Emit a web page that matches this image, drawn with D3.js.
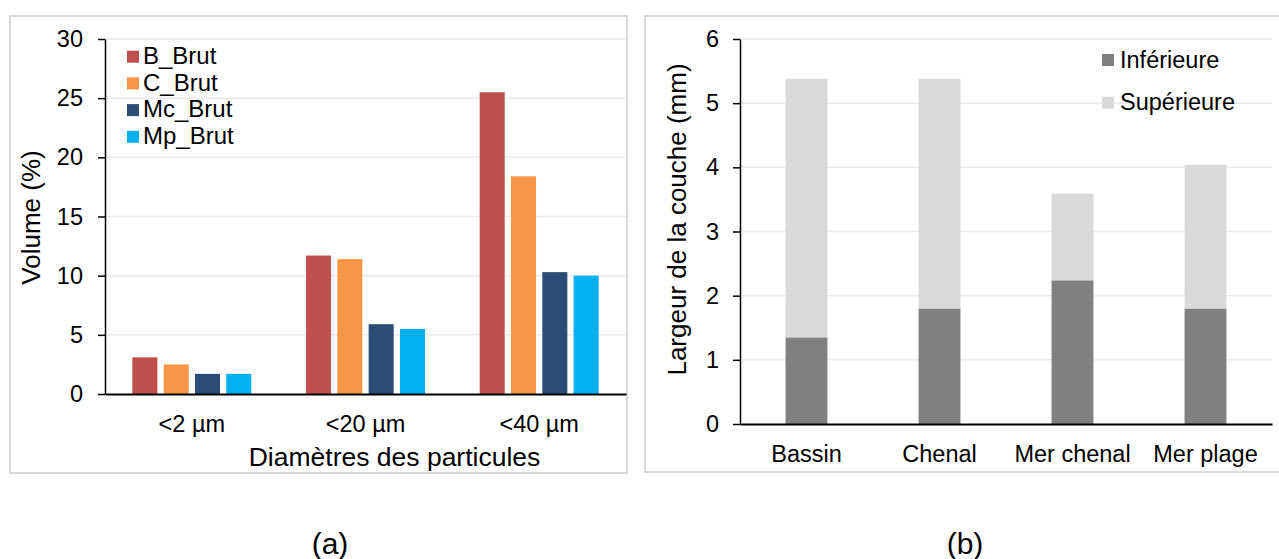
<!DOCTYPE html>
<html>
<head>
<meta charset="utf-8">
<script src="https://cdn.jsdelivr.net/npm/d3@7"></script>
<style>
  html, body { margin: 0; padding: 0; background: #fff; }
  svg { display: block; }
  text { font-family: "Liberation Sans", Arial, sans-serif; fill: #000; }
</style>
</head>
<body>
<svg id="chart" width="1279" height="559"></svg>
<script>
// ---------- Panel (a) data ----------
const categoriesA = ["<2 µm", "<20 µm", "<40 µm"];
const seriesA = ["B_Brut", "C_Brut", "Mc_Brut", "Mp_Brut"];
const bBrut  = [3.1, 11.7, 25.5];
const cBrut  = [2.5, 11.4, 18.4];
const mcBrut = [1.7, 5.9, 10.3];
const mpBrut = [1.7, 5.5, 10.0];
const colorsA = ["#C0504D", "#F79646", "#2C4D75", "#00B0F0"];
const ticksA = [0, 5, 10, 15, 20, 25, 30];
const titleYA = "Volume (%)";
const titleXA = "Diamètres des particules";

// ---------- Panel (b) data ----------
const categoriesB = ["Bassin", "Chenal", "Mer chenal", "Mer plage"];
const seriesB = ["Inférieure", "Supérieure"];
const inferieure = [1.35, 1.8, 2.24, 1.8];
const superieure = [4.03, 3.58, 1.35, 2.24];
const colorsB = ["#808080", "#D9D9D9"];
const ticksB = [0, 1, 2, 3, 4, 5, 6];
const titleYB = "Largeur de la couche (mm)";

const svg = d3.select("#chart");

// Frames
svg.append("rect").attr("x", 10).attr("y", 16).attr("width", 617).attr("height", 457)
  .attr("fill", "none").attr("stroke", "#d9d9d9").attr("stroke-width", 2);
svg.append("rect").attr("x", 645).attr("y", 16).attr("width", 640).attr("height", 456)
  .attr("fill", "none").attr("stroke", "#d9d9d9").attr("stroke-width", 2);

// ================= Panel (a) =================
(function () {
  const left = 105, right = 626, top = 39, bottom = 394;
  const valuesA = [bBrut, cBrut, mcBrut, mpBrut];
  const y = d3.scaleLinear().domain([0, 30]).range([bottom, top]);
  const x0 = d3.scaleBand().domain(categoriesA).range([left, right]).padding(0);
  const groupW = x0.bandwidth() * 0.685;
  const x1 = d3.scaleBand().domain(seriesA).range([0, groupW]).paddingInner(0.2);
  const g = svg.append("g");

  g.selectAll("line.grid").data(ticksA.filter(t => t > 0)).join("line")
    .attr("x1", left).attr("x2", right)
    .attr("y1", d => y(d)).attr("y2", d => y(d))
    .attr("stroke", "#ebebeb").attr("stroke-width", 1.5);

  seriesA.forEach((s, si) => {
    g.selectAll("rect.s" + si).data(categoriesA).join("rect")
      .attr("x", (c) => x0(c) + (x0.bandwidth() - groupW) / 2 + x1(s))
      .attr("width", x1.bandwidth())
      .attr("y", (c, i) => y(valuesA[si][i]))
      .attr("height", (c, i) => y(0) - y(valuesA[si][i]))
      .attr("fill", colorsA[si]);
  });

  const ya = g.append("g").attr("transform", `translate(${left},0)`)
    .call(d3.axisLeft(y).tickValues(ticksA).tickFormat(d3.format("d")).tickSize(7).tickSizeOuter(0).tickPadding(15));
  ya.select(".domain").attr("stroke", "#000").attr("stroke-width", 1.5);
  ya.selectAll(".tick line").attr("stroke", "#000").attr("stroke-width", 1.5);
  ya.selectAll("text").attr("font-size", 23.5).attr("fill", "#000");

  const xa = g.append("g").attr("transform", `translate(0,${bottom})`)
    .call(d3.axisBottom(x0).tickSize(0).tickSizeOuter(0).tickPadding(21));
  xa.select(".domain").attr("stroke", "#000").attr("stroke-width", 2);
  xa.selectAll("text").attr("font-size", 23.5).attr("fill", "#000");

  g.append("text").attr("transform", `translate(40,${(top + bottom) / 2 + 1}) rotate(-90)`)
    .attr("text-anchor", "middle").attr("font-size", 26).text(titleYA);
  g.append("text").attr("x", (left + right) / 2 + 29).attr("y", 466)
    .attr("text-anchor", "middle").attr("font-size", 26.5).text(titleXA);

  const lg = g.append("g");
  seriesA.forEach((s, i) => {
    lg.append("rect").attr("x", 127).attr("y", 50.7 + i * 26.7).attr("width", 12).attr("height", 12)
      .attr("fill", colorsA[i]);
    lg.append("text").attr("x", 143).attr("y", 64 + i * 26.7).attr("font-size", 24).text(s);
  });
})();

// ================= Panel (b) =================
(function () {
  const left = 740, right = 1272, top = 39, bottom = 424;
  const rows = categoriesB.map((c, i) => ({ cat: c, "Inférieure": inferieure[i], "Supérieure": superieure[i] }));
  const stack = d3.stack().keys(seriesB)(rows);
  const y = d3.scaleLinear().domain([0, 6]).range([bottom, top]);
  const x = d3.scaleBand().domain(categoriesB).range([left, right]).padding(0);
  const barW = x.bandwidth() * 0.315;
  const g = svg.append("g");

  g.selectAll("line.grid").data(ticksB.filter(t => t > 0)).join("line")
    .attr("x1", left).attr("x2", right)
    .attr("y1", d => y(d)).attr("y2", d => y(d))
    .attr("stroke", "#ebebeb").attr("stroke-width", 1.5);

  stack.forEach((layer, li) => {
    g.selectAll("rect.l" + li).data(layer).join("rect")
      .attr("x", d => x(d.data.cat) + (x.bandwidth() - barW) / 2)
      .attr("width", barW)
      .attr("y", d => y(d[1]))
      .attr("height", d => y(d[0]) - y(d[1]))
      .attr("fill", colorsB[li]);
  });

  const ya = g.append("g").attr("transform", `translate(${left},0)`)
    .call(d3.axisLeft(y).tickValues(ticksB).tickFormat(d3.format("d")).tickSize(7).tickSizeOuter(0).tickPadding(14));
  ya.select(".domain").attr("stroke", "#000").attr("stroke-width", 1.5);
  ya.selectAll(".tick line").attr("stroke", "#000").attr("stroke-width", 1.5);
  ya.selectAll("text").attr("font-size", 23.5).attr("fill", "#000");

  const xa = g.append("g").attr("transform", `translate(0,${bottom})`)
    .call(d3.axisBottom(x).tickSize(0).tickSizeOuter(0).tickPadding(21));
  xa.select(".domain").attr("stroke", "#000").attr("stroke-width", 2);
  xa.selectAll("text").attr("font-size", 23.5).attr("fill", "#000");

  g.append("text").attr("transform", `translate(686,${(top + bottom) / 2 - 12}) rotate(-90)`)
    .attr("text-anchor", "middle").attr("font-size", 26).text(titleYB);

  const lg = g.append("g");
  const legY = [54, 96.7];
  const legT = [67.5, 110];
  seriesB.forEach((s, i) => {
    lg.append("rect").attr("x", 1102).attr("y", legY[i]).attr("width", 12).attr("height", 12)
      .attr("fill", colorsB[i]);
    lg.append("text").attr("x", 1120).attr("y", legT[i]).attr("font-size", 23.5).text(s);
  });
})();

// Panel labels
svg.append("text").attr("x", 330).attr("y", 554).attr("text-anchor", "middle").attr("font-size", 30).text("(a)");
svg.append("text").attr("x", 965).attr("y", 554).attr("text-anchor", "middle").attr("font-size", 30).text("(b)");
</script>
</body>
</html>
